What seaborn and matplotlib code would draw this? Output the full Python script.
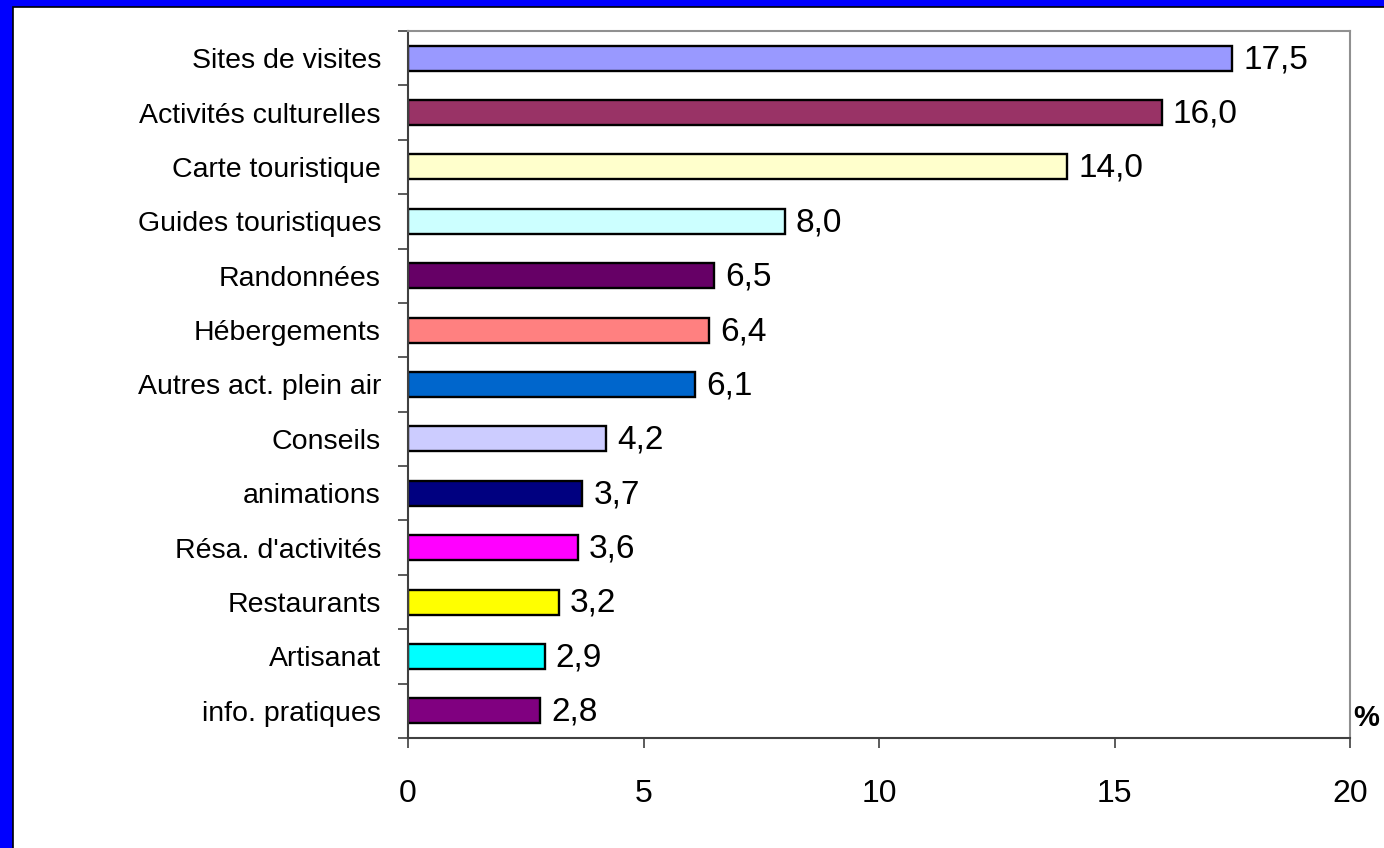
import matplotlib
matplotlib.use("Agg")
import matplotlib.pyplot as plt
from matplotlib.patches import Rectangle
import seaborn as sns
import pandas as pd
import numpy as np

categories = ["Sites de visites", "Activités culturelles", "Carte touristique",
              "Guides touristiques", "Randonnées", "Hébergements",
              "Autres act. plein air", "Conseils", "animations",
              "Résa. d'activités", "Restaurants", "Artisanat", "info. pratiques"]
values = [17.5, 16.0, 14.0, 8.0, 6.5, 6.4, 6.1, 4.2, 3.7, 3.6, 3.2, 2.9, 2.8]
colors = ["#9999FF", "#993366", "#FFFFCC", "#CCFFFF", "#660066", "#FF8080",
          "#0066CC", "#CCCCFF", "#000080", "#FF00FF", "#FFFF00", "#00FFFF",
          "#800080"]
x_ticks = [0, 5, 10, 15, 20]
unit_label = "%"

sns.set_style("white")
plt.rcParams['font.family'] = ['Liberation Sans', 'DejaVu Sans']
plt.rcParams['text.color'] = 'black'
plt.rcParams['xtick.labelcolor'] = 'black'
plt.rcParams['ytick.labelcolor'] = 'black'

df = pd.DataFrame({"cat": categories, "val": values})

fig = plt.figure(figsize=(13.84, 8.48), dpi=100)
fig.patch.set_facecolor("#0000FF")
bg = Rectangle((13 / 1384, -0.01), 1.01, 1 - 7 / 848 + 0.01,
               transform=fig.transFigure, facecolor="white",
               edgecolor="black", linewidth=1.2, zorder=-10)
fig.patches.append(bg)

ax = fig.add_axes([408 / 1384, 1 - 738 / 848, (1350 - 408) / 1384, (738 - 31) / 848])
ax.set_facecolor("none")

sns.barplot(data=df, y="cat", x="val", hue="cat", palette=colors, legend=False,
            orient="h", width=0.46, edgecolor="black", linewidth=1.7, ax=ax,
            saturation=1)

ax.set_xlim(0, 20)
ax.set_ylim(len(categories) - 0.5, -0.5)
ax.set_xticks(x_ticks)
ax.set_xticklabels([str(t) for t in x_ticks], fontsize=23, color="black")
ax.set_yticks(range(len(categories)))
ax.set_yticklabels(categories, fontsize=20.5, color="black")
ax.set_yticks(np.arange(-0.5, len(categories), 1.0), minor=True)
ax.set_xlabel("")
ax.set_ylabel("")

ax.tick_params(axis="y", which="major", length=0, pad=19.5)
ax.tick_params(axis="y", which="minor", length=7.2, width=1.2, color="#404040", direction="out", left=True)
ax.tick_params(axis="x", which="major", length=7.2, width=1.2, color="#404040", direction="out",
               pad=22, bottom=True)

for side in ["top", "right"]:
    ax.spines[side].set_color("#909090")
    ax.spines[side].set_linewidth(1.5)
for side in ["left", "bottom"]:
    ax.spines[side].set_color("#404040")
    ax.spines[side].set_linewidth(1.5)
    ax.spines[side].set_visible(True)

for i, v in enumerate(values):
    ax.annotate(f"{v:.1f}".replace(".", ","), xy=(v, i), xytext=(8, -1),
                textcoords="offset points", va="center", ha="left", fontsize=24,
                color="black")

ax.text(1353 / 1384, 1 - 718 / 848, unit_label, transform=fig.transFigure,
        fontsize=21, fontweight="bold", va="center", ha="left", color="black")

fig.savefig("out.png", dpi=100, facecolor=fig.get_facecolor())
